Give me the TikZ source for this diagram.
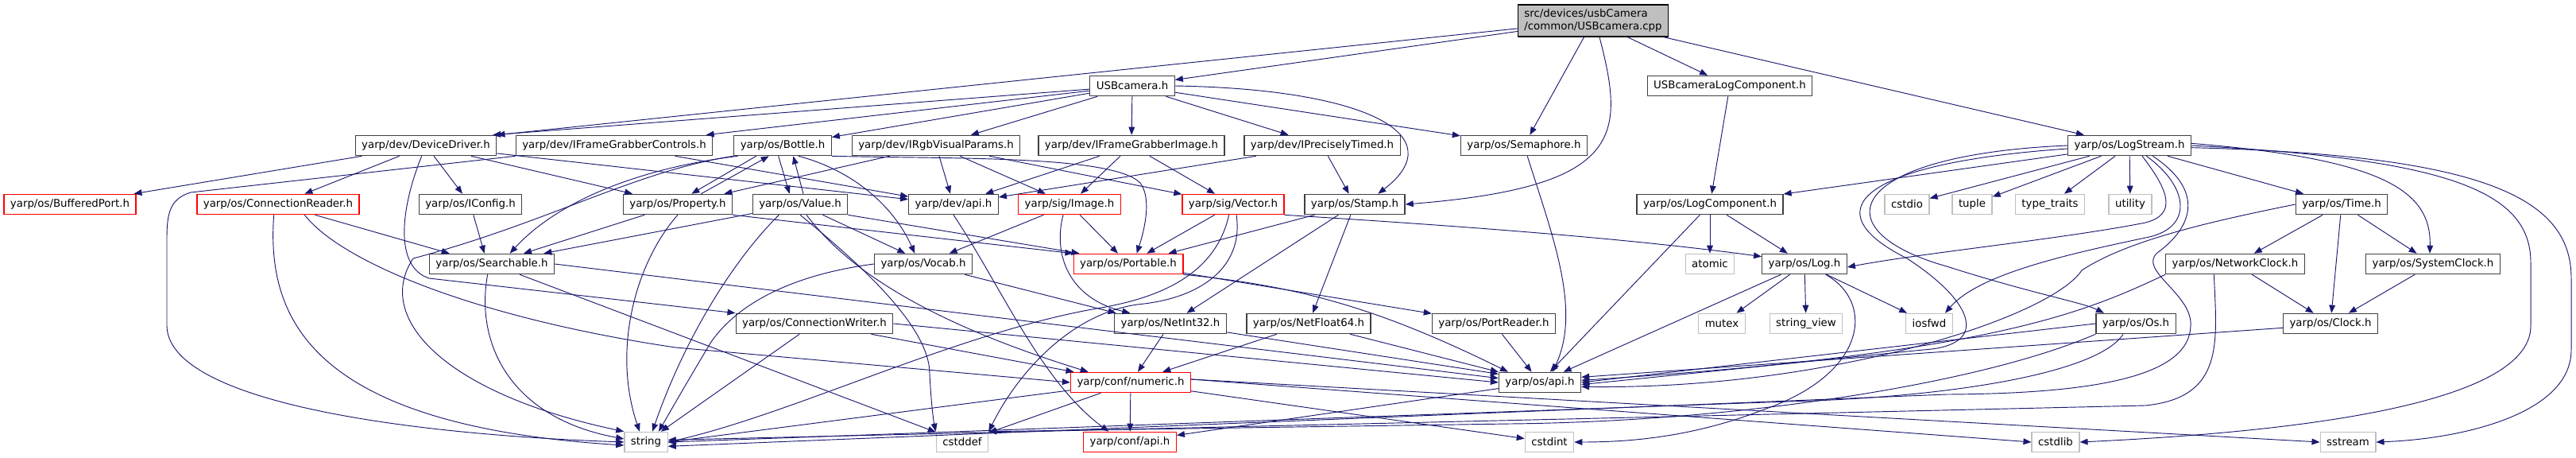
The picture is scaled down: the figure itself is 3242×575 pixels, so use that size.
\documentclass[tikz,border=0pt]{standalone}
\usepackage{fontspec}
\setmainfont{DejaVu Sans}
\usepackage{xcolor}
\usetikzlibrary{arrows.meta,positioning,calc}

\definecolor{edgeblue}{RGB}{25,25,112}
\definecolor{boxgray}{RGB}{64,64,64}
\definecolor{sysgray}{RGB}{191,191,191}
\definecolor{rootgray}{RGB}{191,191,191}

\begin{document}
\begin{tikzpicture}[x=0.75pt,y=-0.75pt,
  hdr/.style={draw=boxgray, line width=0.95pt, fill=white, inner xsep=6pt, inner ysep=2pt,
    minimum height=19pt, font=\fontsize{10}{12}\selectfont},
  trunc/.style={hdr, draw=red},
  sys/.style={hdr, draw=sysgray},
  root/.style={hdr, draw=black, fill=rootgray, align=left, minimum height=30pt},
  dep/.style={draw=edgeblue, line width=0.7pt, -{Triangle[length=7.5pt,width=5.8pt]}}]
\useasboundingbox (0,0) rectangle (3242,575);
\fill[white] (0,0) rectangle (3242,575);

% Source file and first level
\node[root] (cpp) at (2005,26) {src/devices/usbCamera\\/common/USBcamera.cpp};
\node[hdr] (usbh) at (1425,108) {USBcamera.h};
\node[hdr] (usblog) at (2177,108) {USBcameraLogComponent.h};

% Row 2
\node[hdr] (devdrv) at (536,183) {yarp/dev/DeviceDriver.h};
\node[hdr] (fgctrl) at (773,183) {yarp/dev/IFrameGrabberControls.h};
\node[hdr] (bottle) at (985,183) {yarp/os/Bottle.h};
\node[hdr] (rgb) at (1178,183) {yarp/dev/IRgbVisualParams.h};
\node[hdr] (fgimg) at (1424,183) {yarp/dev/IFrameGrabberImage.h};
\node[hdr] (ptimed) at (1664,183) {yarp/dev/IPreciselyTimed.h};
\node[hdr] (sema) at (1918,183) {yarp/os/Semaphore.h};
\node[hdr] (logstream) at (2680,183) {yarp/os/LogStream.h};

% Row 3
\node[trunc] (bufport) at (88,257) {yarp/os/BufferedPort.h};
\node[trunc] (connreader) at (350,257) {yarp/os/ConnectionReader.h};
\node[hdr] (iconfig) at (592,257) {yarp/os/IConfig.h};
\node[hdr] (property) at (853,257) {yarp/os/Property.h};
\node[hdr] (value) at (1007,257) {yarp/os/Value.h};
\node[hdr] (devapi) at (1200,257) {yarp/dev/api.h};
\node[trunc] (image) at (1346,257) {yarp/sig/Image.h};
\node[trunc] (vector) at (1552,257) {yarp/sig/Vector.h};
\node[hdr] (stamp) at (1705,257) {yarp/os/Stamp.h};
\node[hdr] (logcomp) at (2152,257) {yarp/os/LogComponent.h};
\node[sys] (cstdio) at (2400,257) {cstdio};
\node[sys] (tuple) at (2482,257) {tuple};
\node[sys] (typetraits) at (2580,257) {type\_traits};
\node[sys] (utility) at (2681,257) {utility};
\node[hdr] (time) at (2947,257) {yarp/os/Time.h};

% Row 4
\node[hdr] (searchable) at (619,332) {yarp/os/Searchable.h};
\node[hdr] (vocab) at (1162,332) {yarp/os/Vocab.h};
\node[trunc] (portable) at (1420,332) {yarp/os/Portable.h};
\node[sys] (atomic) at (2152,332) {atomic};
\node[hdr] (log) at (2271,332) {yarp/os/Log.h};
\node[hdr] (netclock) at (2813,332) {yarp/os/NetworkClock.h};
\node[hdr] (sysclock) at (3062,332) {yarp/os/SystemClock.h};

% Row 5
\node[hdr] (connwriter) at (1025,407) {yarp/os/ConnectionWriter.h};
\node[hdr] (netint) at (1473,407) {yarp/os/NetInt32.h};
\node[hdr] (netfloat) at (1647,407) {yarp/os/NetFloat64.h};
\node[hdr] (portreader) at (1880,407) {yarp/os/PortReader.h};
\node[sys] (mutex) at (2167,407) {mutex};
\node[sys] (strview) at (2273,407) {string\_view};
\node[sys] (iosfwd) at (2428,407) {iosfwd};
\node[hdr] (os) at (2688,407) {yarp/os/Os.h};
\node[hdr] (clock) at (2933,407) {yarp/os/Clock.h};

% Rows 6 and 7
\node[trunc] (numeric) at (1423,481) {yarp/conf/numeric.h};
\node[hdr] (osapi) at (1938,481) {yarp/os/api.h};
\node[sys] (string) at (813,556) {string};
\node[sys] (cstddef) at (1211,556) {cstddef};
\node[trunc] (confapi) at (1422,556) {yarp/conf/api.h};
\node[sys] (cstdint) at (1950,556) {cstdint};
\node[sys] (cstdlib) at (2587,556) {cstdlib};
\node[sys] (sstream) at (2955,556) {sstream};

% USBcamera.cpp
\draw[dep] (cpp) -- (usbh);
\draw[dep] (cpp) -- (devdrv.north east);
\draw[dep] (cpp) -- (sema);
\draw[dep] ([xshift=6pt]cpp.south) .. controls (2045,170) and (2045,235) .. (stamp.east);
\draw[dep] (cpp) -- (usblog);
\draw[dep] (cpp) -- (logstream);

% USBcamera.h
\draw[dep] (usbh) -- ([xshift=-4pt]devdrv.north east);
\draw[dep] (usbh) -- (fgctrl);
\draw[dep] (usbh) -- (bottle);
\draw[dep] (usbh) -- (rgb);
\draw[dep] (usbh) -- (fgimg);
\draw[dep] (usbh) -- (ptimed);
\draw[dep] (usbh) -- (sema);
\draw[dep] (usbh.east) .. controls (1720,112) and (1830,170) .. ([xshift=22pt]stamp.north);
\draw[dep] (usblog) -- (logcomp);

% DeviceDriver.h
\draw[dep] (devdrv) -- (bufport);
\draw[dep] (devdrv) -- (connreader);
\draw[dep] (devdrv) -- (iconfig);
\draw[dep] (devdrv) -- (property);
\draw[dep] (devdrv) -- (devapi);
\draw[dep] ([xshift=-4pt]devdrv.south) .. controls (505,260) and (495,335) .. (540,350) -- (connwriter.north west);

% IFrameGrabberControls.h
\draw[dep] (fgctrl) -- (devapi);
\draw[dep] (fgctrl.south west) -- (240,242) .. controls (214,250) and (210,268) .. (210,300) -- (210,410) .. controls (212,500) and (480,545) .. (string.west);

% Bottle.h
\draw[dep] ([xshift=-25pt]bottle.south) -- ([xshift=13pt]property.north);
\draw[dep] ([xshift=-4pt]bottle.south) -- ([xshift=-10pt]value.north);
\draw[dep] ([xshift=4pt]bottle.south west) .. controls (800,212) and (700,255) .. ([xshift=17pt]searchable.north);
\draw[dep] (bottle.south west) .. controls (800,215) and (690,280) .. (520,325) .. controls (470,400) and (560,495) .. (string.north west);
\draw[dep] ([xshift=15pt]bottle.south) .. controls (1075,215) and (1125,260) .. ([xshift=-8pt]vocab.north);
\draw[dep] (bottle.south east) .. controls (1200,200) and (1400,195) .. (1435,230) .. controls (1450,250) and (1440,290) .. ([xshift=8pt]portable.north);

% Property.h and Value.h
\draw[dep] ([xshift=22pt]property.north) -- ([xshift=-13pt]bottle.south);
\draw[dep] (property) -- ([xshift=30pt]searchable.north);
\draw[dep] (property.south east) -- (portable.north west);
\draw[dep] (property.south) .. controls (800,330) and (770,440) .. ([xshift=-6pt]string.north);
\draw[dep] ([xshift=3pt]value.north) -- ([xshift=10pt]bottle.south);
\draw[dep] (value) -- ([xshift=49pt]searchable.north);
\draw[dep] (value) -- ([xshift=-17pt]vocab.north);
\draw[dep] (value.south east) -- ([xshift=6pt]portable.north west);
\draw[dep] ([xshift=-20pt]value.south) .. controls (920,330) and (860,430) .. ([xshift=6pt]string.north);
\draw[dep] ([xshift=6pt]value.south) .. controls (1060,330) and (1150,400) .. ([xshift=-40pt]numeric.north);
\draw[dep] (value.south) .. controls (1080,330) and (1170,410) .. (1170,470) .. controls (1172,510) and (1175,530) .. (cstddef.north west);

% Camera interfaces
\draw[dep] (rgb) -- (property);
\draw[dep] (rgb) -- (devapi);
\draw[dep] (rgb) -- (image);
\draw[dep] (rgb) -- (vector);
\draw[dep] (fgimg) -- (devapi);
\draw[dep] (fgimg) -- (image);
\draw[dep] (fgimg) -- (vector);
\draw[dep] (ptimed) -- (devapi);
\draw[dep] (ptimed) -- (stamp);
\draw[dep] (sema) .. controls (1955,300) and (1990,390) .. ([xshift=12pt]osapi.north);

% Image.h, Vector.h, Stamp.h
\draw[dep] (image) -- (vocab);
\draw[dep] (image) -- (portable);
\draw[dep] ([xshift=-6pt]image.south) .. controls (1325,320) and (1345,375) .. ([xshift=-38pt]netint.north);
\draw[dep] (vector) -- (portable);
\draw[dep] (vector.south east) .. controls (1850,285) and (2050,300) .. ([yshift=7pt]log.west);
\draw[dep] ([xshift=-4pt]vector.south) .. controls (1530,345) and (1460,375) .. (1380,388) .. controls (1200,420) and (1000,520) .. (string.east);
\draw[dep] ([xshift=3pt]vector.south) .. controls (1565,330) and (1520,372) .. (1440,382) .. controls (1350,390) and (1280,470) .. (cstddef.north east);
\draw[dep] (stamp) -- (portable);
\draw[dep] (stamp) -- (netint);
\draw[dep] (stamp) -- (netfloat);
\draw[dep] (devapi.south) .. controls (1260,360) and (1310,480) .. ([xshift=-20pt]confapi.north);

% Portable.h, Vocab.h, Searchable.h
\draw[dep] (portable.south east) .. controls (1640,360) and (1740,390) .. ([xshift=-30pt]osapi.north);
\draw[dep] (portable) -- (portreader);
\draw[dep] (vocab) -- ([xshift=2pt]netint.north west);
\draw[dep] (vocab.west) .. controls (1000,345) and (930,380) .. (895,430) .. controls (865,480) and (845,515) .. ([xshift=12pt]string.north);
\draw[dep] ([xshift=-4pt]searchable.south) .. controls (598,430) and (640,525) .. ([yshift=3pt]string.west);
\draw[dep] (searchable.east) -- ([yshift=4pt]osapi.west);
\draw[dep] (searchable) -- (cstddef);
\draw[dep] (iconfig) -- ([xshift=-7pt]searchable.north);

% ConnectionReader.h, ConnectionWriter.h
\draw[dep] (connreader) -- ([xshift=-40pt]searchable.north);
\draw[dep] ([xshift=-4pt]connreader.south) .. controls (335,400) and (390,535) .. ([yshift=-3pt]string.west);
\draw[dep] ([xshift=25pt]connreader.south) .. controls (430,330) and (600,400) .. (850,437) -- (numeric.west);
\draw[dep] (connwriter) -- (string);
\draw[dep] (connwriter) -- (numeric);
\draw[dep] (connwriter.east) -- (osapi.west);

% Net types and readers
\draw[dep] (netint) -- (numeric);
\draw[dep] (netint) -- ([yshift=-2pt]osapi.north west);
\draw[dep] (netfloat) -- (numeric);
\draw[dep] (netfloat) -- (osapi);
\draw[dep] (portreader) -- (osapi);

% numeric.h and api.h
\draw[dep] (numeric) -- (string.east);
\draw[dep] (numeric) -- (cstddef);
\draw[dep] (numeric) -- (confapi);
\draw[dep] (numeric) -- (cstdint);
\draw[dep] ([yshift=3pt]numeric.east) -- (cstdlib.west);
\draw[dep] ([yshift=3pt]numeric.east) -- (sstream.west);
\draw[dep] (osapi) -- (confapi);

% LogStream.h
\draw[dep] (logstream) -- (logcomp);
\draw[dep] (logstream) -- (cstdio);
\draw[dep] (logstream) -- (tuple);
\draw[dep] (logstream) -- (typetraits);
\draw[dep] (logstream) -- (utility);
\draw[dep] (logstream) -- (time);
\draw[dep] ([xshift=12pt]logstream.south) .. controls (2730,240) and (2740,270) .. (2700,280) .. controls (2600,300) and (2420,318) .. ([yshift=-3pt]log.east);
\draw[dep] ([xshift=16pt]logstream.south) .. controls (2755,235) and (2760,285) .. (2705,298) .. controls (2600,320) and (2490,345) .. ([xshift=15pt]iosfwd.north);
\draw[dep] ([xshift=22pt]logstream.south) .. controls (2775,240) and (2760,285) .. (2715,318) .. controls (2690,340) and (2760,370) .. (2757,410) .. controls (2755,470) and (2650,495) .. (2450,496) -- ([yshift=-4pt]string.east);
\draw[dep] (logstream.west) .. controls (2320,195) and (2290,290) .. (2450,335) .. controls (2560,370) and (2620,380) .. ([xshift=-30pt]os.north);
\draw[dep] ([yshift=-3pt]logstream.west) .. controls (2340,205) and (2280,265) .. (2400,325) .. controls (2485,380) and (2505,435) .. (2420,440) -- ([yshift=-2pt]osapi.east);
\draw[dep] ([yshift=2pt]logstream.east) .. controls (3000,200) and (3060,240) .. ([xshift=-3pt]sysclock.north);
\draw[dep] (logstream.east) .. controls (3080,200) and (3185,240) .. (3185,330) -- (3185,410) .. controls (3185,515) and (2850,545) .. (cstdlib.east);
\draw[dep] ([yshift=-2pt]logstream.east) .. controls (3130,195) and (3236,250) .. (3236,350) -- (3236,440) .. controls (3236,520) and (3100,552) .. (sstream.east);

% LogComponent.h and Log.h
\draw[dep] (logcomp) -- (atomic);
\draw[dep] (logcomp) -- (log);
\draw[dep] (logcomp) -- (osapi);
\draw[dep] (log) -- (mutex);
\draw[dep] (log) -- (strview);
\draw[dep] (log) -- (iosfwd);
\draw[dep] (log) -- (osapi);
\draw[dep] ([xshift=20pt]log.south) .. controls (2360,380) and (2350,470) .. (2220,515) .. controls (2130,550) and (2050,556) .. (cstdint.east);

% Time.h and clocks
\draw[dep] (time) -- (netclock);
\draw[dep] (time) -- (clock);
\draw[dep] (time) -- (sysclock);
\draw[dep] (time.west) .. controls (2800,275) and (2680,300) .. (2620,340) .. controls (2580,400) and (2300,490) .. ([yshift=-4pt]osapi.east);
\draw[dep] (netclock) -- (clock);
\draw[dep] (netclock.south west) .. controls (2620,395) and (2500,445) .. ([yshift=2pt]osapi.east);
\draw[dep] ([xshift=-20pt]netclock.south) .. controls (2790,430) and (2800,500) .. (2700,510) -- ([yshift=2pt]string.east);
\draw[dep] (sysclock) -- (clock);
\draw[dep] ([yshift=-4pt]clock.west) -- ([yshift=5pt]osapi.east);

% Os.h
\draw[dep] (os.west) -- (osapi.east);
\draw[dep] (os.south west) .. controls (2500,480) and (2200,530) .. (1900,533) -- (cstddef.north east);
\draw[dep] ([xshift=-12pt]os.south) .. controls (2640,470) and (2450,500) .. (2250,505) -- (string.east);
\end{tikzpicture}
\end{document}
